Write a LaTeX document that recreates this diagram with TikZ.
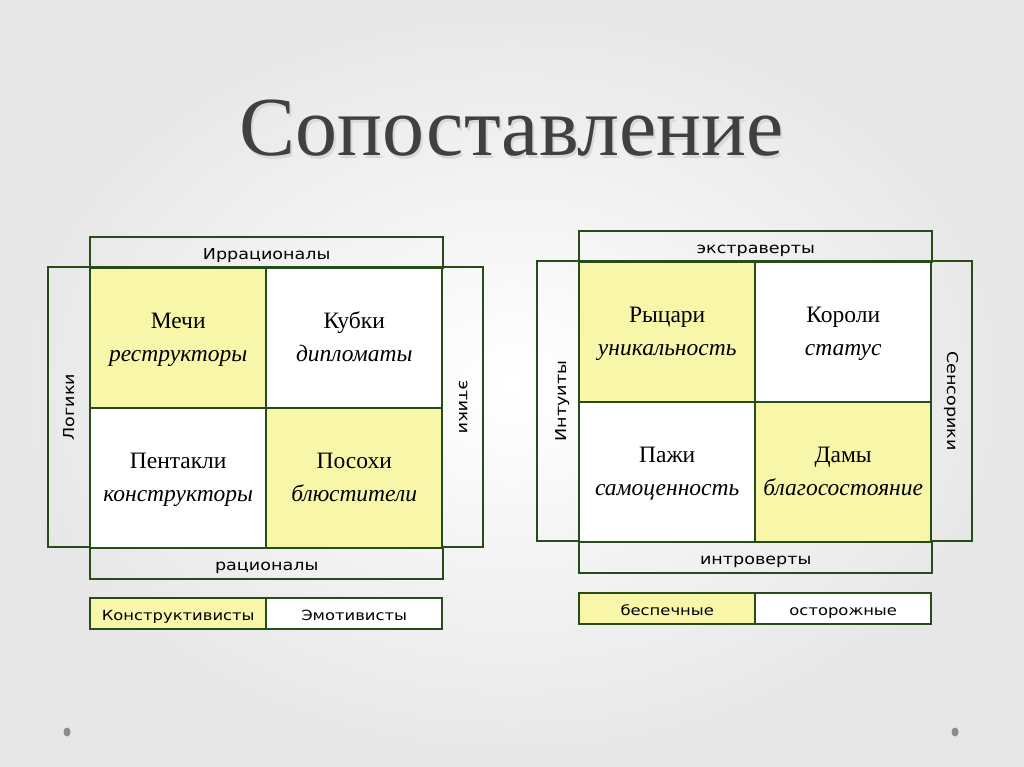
\documentclass[tikz,border=0pt]{standalone}
\usepackage{fontspec}
\setmainfont{Liberation Serif}
\newfontfamily\labelfont[FakeStretch=1.17]{DejaVu Sans}
\definecolor{framegreen}{RGB}{38,76,26}
\definecolor{cellyellow}{RGB}{248,246,168}
\definecolor{titlegray}{RGB}{64,64,64}
\definecolor{bgedge}{RGB}{231,231,231}
\usetikzlibrary{positioning,calc}
\newcommand{\cellpair}[2]{\strut#1\\\strut\textit{#2}}

\begin{document}
\begin{tikzpicture}[x=1pt,y=-1pt,
    frame/.style={draw=framegreen, line width=2.4pt},
    cell/.style={frame, minimum width=176pt, minimum height=140pt, anchor=north west,
                 inner sep=0pt, align=center, font=\fontsize{23.5}{33}\selectfont},
    band/.style={frame, minimum width=353pt, minimum height=31pt, anchor=north west,
                 inner sep=0pt, text height=13pt, text depth=0pt,
                 font=\labelfont\fontsize{15}{17}\selectfont},
    key/.style={band, minimum width=176pt, font=\labelfont\fontsize{14}{16}\selectfont},
    side/.style={text height=11pt, text depth=3pt, font=\labelfont\fontsize{15}{17}\selectfont}]
    % background
    \shade[inner color=white, outer color=bgedge] (0,0) rectangle (1024,767);
    \useasboundingbox (0,0) rectangle (1024,767);
    \fill[gray!90] (67,732) ellipse (3.5pt and 4.5pt);
    \fill[gray!90] (955,732) ellipse (3.5pt and 4.5pt);
    % title
    \node[text=gray!30, font=\fontsize{84}{90}\selectfont] at (514,131) {Сопоставление};
    \node[text=titlegray, font=\fontsize{84}{90}\selectfont] (title) at (512,128) {Сопоставление};

    % left square
    \draw[frame] (48,267) rectangle (483,547);
    \node[band] (irr) at (89,236) {Иррационалы};
    \node[band] (rat) at (89,547) {рационалы};
    \node[cell, fill=cellyellow] (swords) at (89,267) {\cellpair{Мечи}{реструкторы}};
    \node[cell, fill=white] (cups) at (265,267) {\cellpair{Кубки}{дипломаты}};
    \node[cell, fill=white] (pentacles) at (89,407) {\cellpair{Пентакли}{конструкторы}};
    \node[cell, fill=cellyellow] (wands) at (265,407) {\cellpair{Посохи}{блюстители}};
    \node[side, rotate=90] (logic) at (70,407) {Логики};
    \node[side, rotate=-90] (ethic) at (463,407) {этики};
    \node[key, fill=cellyellow] (constr) at (89,597) {Конструктивисты};
    \node[key, fill=white] (emot) at (265,597) {Эмотивисты};

    % right square
    \draw[frame] (537,261) rectangle (972,541);
    \node[band] (extra) at (578,230) {экстраверты};
    \node[band] (intro) at (578,541) {интроверты};
    \node[cell, fill=cellyellow] (knights) at (578,261) {\cellpair{Рыцари}{уникальность}};
    \node[cell, fill=white] (kings) at (754,261) {\cellpair{Короли}{статус}};
    \node[cell, fill=white] (pages) at (578,401) {\cellpair{Пажи}{самоценность}};
    \node[cell, fill=cellyellow] (queens) at (754,401) {\cellpair{Дамы}{благосостояние}};
    \node[side, rotate=90] (intuit) at (562,401) {Интуиты};
    \node[side, rotate=-90] (sensor) at (951,401) {Сенсорики};
    \node[key, fill=cellyellow] (careless) at (578,592) {беспечные};
    \node[key, fill=white] (careful) at (754,592) {осторожные};
\end{tikzpicture}
\end{document}
